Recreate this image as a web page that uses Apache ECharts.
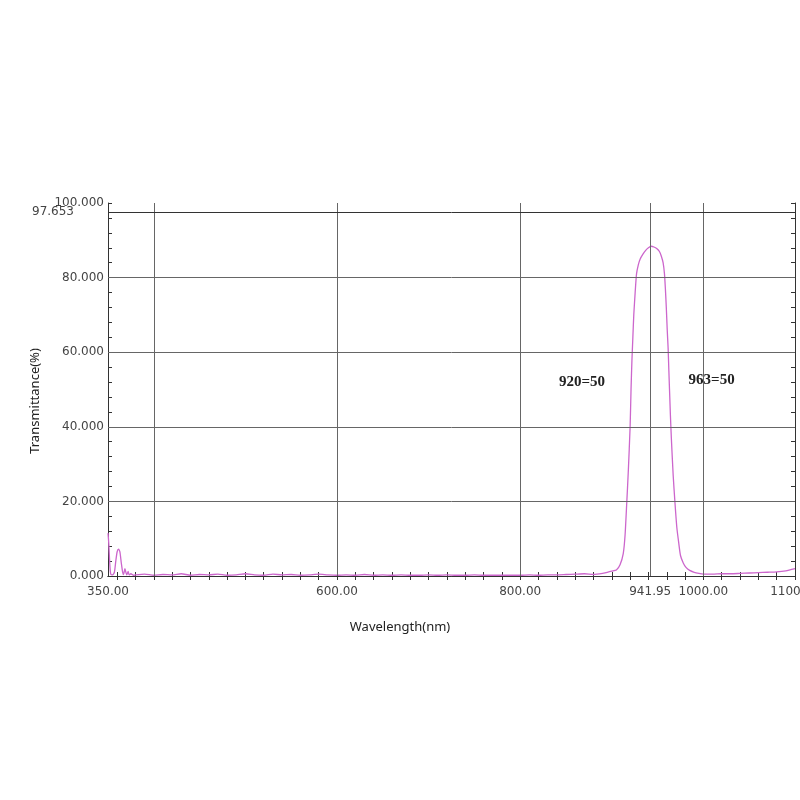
<!DOCTYPE html>
<html><head><meta charset="utf-8">
<script src="https://cdn.jsdelivr.net/npm/echarts@6/dist/echarts.min.js"></script>
<style>html,body{margin:0;padding:0;background:#fff}#c{width:800px;height:800px}</style>
</head><body><div id="c"></div>
<script>
// Wavelength (nm) and transmittance (%)
const wavelength = [
  350, 350.5, 351, 352, 353, 355, 357, 358.5, 360, 361.5, 363, 364.5, 366, 367, 368.5, 369.5, 370.5, 372, 373, 375, 378,
  380, 390, 400, 410, 420, 430, 440, 450, 460, 470, 480, 490, 500, 510, 520, 530, 540, 550, 560, 570, 580, 590,
  600, 610, 620, 630, 640, 650, 660, 670, 680, 690, 700, 710, 720, 730, 740, 750, 760, 770, 780, 790,
  800, 810, 820, 830, 840, 850, 860, 870, 880, 890, 895, 900, 905, 909, 912.5, 914.5, 916.3, 918, 920, 921, 922,
  923, 924, 925.5, 927, 929, 931, 934, 937, 940, 943, 946, 949, 952, 954, 956, 957.5, 958.5, 959.5, 960.5, 961.5,
  962.3, 963, 964, 965, 967, 969, 971, 973, 975, 978, 981, 985, 990, 995, 1000, 1010, 1020, 1030, 1040, 1050,
  1060, 1070, 1080, 1090, 1100
];
const transmittance = [
  11.5, 10, 8, 3, 0.5, 0.3, 1, 4, 6.5, 7.2, 6.5, 3.5, 1, 0.4, 2, 1, 0.3, 1.2, 0.3, 0.6, 0.2,
  0.3, 0.5, 0.2, 0.4, 0.3, 0.6, 0.2, 0.4, 0.3, 0.5, 0.2, 0.3, 0.6, 0.3, 0.2, 0.5, 0.3, 0.4, 0.2, 0.3, 0.5, 0.3,
  0.2, 0.3, 0.2, 0.4, 0.2, 0.3, 0.2, 0.3, 0.2, 0.2, 0.3, 0.2, 0.3, 0.2, 0.2, 0.3, 0.2, 0.2, 0.2, 0.2,
  0.2, 0.3, 0.2, 0.3, 0.3, 0.4, 0.5, 0.6, 0.4, 0.7, 1.0, 1.3, 1.6, 3, 6, 11, 19.5, 28, 40, 50, 58,
  64, 70, 76, 81, 83.5, 85, 86.3, 87.3, 88, 88.4, 88.2, 87.8, 87, 85.8, 84, 81, 77, 72, 66, 61,
  55, 50, 43, 37, 27, 19.5, 13, 9, 5.5, 3.5, 2.3, 1.5, 1.0, 0.7, 0.5, 0.5, 0.6, 0.6, 0.7, 0.8,
  0.9, 1.0, 1.1, 1.4, 2.0
];
const xLabelValues = [350, 600, 800, 941.95, 1000, 1100];
const xGridValues = [400, 600, 800, 941.95, 1000];
const yGridValues = [20, 40, 60, 80];
const yRefValue = 97.653;
const noteTexts = ['920=50', '963=50'];

const xMinor = [];
for (let v = 360; v <= 1100; v += 20) xMinor.push(v);
const yMinor = [];
for (let v = 0; v <= 100; v += 4) yMinor.push(v);

const seriesData = wavelength.map((w, i) => [w, transmittance[i]]);
const axisColor = '#333';
const gridColor = '#666';
const labelFont = { fontFamily: 'DejaVu Sans', fontSize: 12, color: '#444' };

const chart = echarts.init(document.getElementById('c'), null, { renderer: 'canvas' });
chart.setOption({
  animation: false,
  backgroundColor: '#fff',
  grid: { left: 108, right: 5, top: 203, bottom: 224, containLabel: false, outerBoundsMode: 'none' },
  xAxis: [
    {
      type: 'value', min: 350, max: 1100, position: 'bottom',
      axisLine: { show: true, lineStyle: { color: axisColor, width: 1 } },
      axisTick: { show: true, inside: true, length: 4, customValues: xMinor, lineStyle: { color: axisColor } },
      axisLabel: Object.assign({ customValues: xLabelValues, formatter: v => v.toFixed(2), margin: 10, showMaxLabel: true, showMinLabel: true }, labelFont),
      splitLine: { show: false }
    },
    {
      type: 'value', min: 350, max: 1100, position: 'top',
      axisLine: { show: true, lineStyle: { color: axisColor, width: 1 } },
      axisTick: { show: true, inside: true, length: 4, customValues: xMinor, lineStyle: { color: axisColor } },
      axisLabel: { show: false },
      splitLine: { show: false }
    }
  ],
  yAxis: [
    {
      type: 'value', min: 0, max: 100, interval: 20, position: 'left',
      axisLine: { show: true, lineStyle: { color: axisColor, width: 1 } },
      axisTick: { show: true, inside: true, length: 4, customValues: yMinor, lineStyle: { color: axisColor } },
      axisLabel: Object.assign({ formatter: v => v.toFixed(3), margin: 4 }, labelFont),
      splitLine: { show: false }
    },
    {
      type: 'value', min: 0, max: 100, interval: 20, position: 'right',
      axisLine: { show: true, lineStyle: { color: axisColor, width: 1 } },
      axisTick: { show: true, inside: true, length: 4, customValues: yMinor, lineStyle: { color: axisColor } },
      axisLabel: { show: false },
      splitLine: { show: false }
    }
  ],
  graphic: [
    { type: 'text', x: 35, y: 401, rotation: Math.PI / 2,
      style: { text: 'Transmittance(%)', fontFamily: 'Noto Sans', fontSize: 13, fill: '#222', align: 'center', verticalAlign: 'middle' } },
    { type: 'text', x: 400, y: 627,
      style: { text: 'Wavelength(nm)', fontFamily: 'Noto Sans', fontSize: 13, fill: '#222', align: 'center', verticalAlign: 'middle' } }
  ],
  series: [{
    type: 'line',
    xAxisIndex: 0, yAxisIndex: 0,
    data: seriesData,
    showSymbol: false,
    smooth: 0.2,
    lineStyle: { color: '#cc66cc', width: 1.3 },
    z: 3,
    markLine: {
      silent: true,
      symbol: ['none', 'none'],
      lineStyle: { color: gridColor, width: 1, type: 'solid' },
      label: { show: false },
      data: xGridValues.map(v => ({ xAxis: v }))
        .concat(yGridValues.map(v => ({ yAxis: v })))
        .concat([{
          yAxis: yRefValue,
          lineStyle: { color: axisColor, width: 1, type: 'solid' },
          label: { show: true, position: 'start', distance: 34, formatter: String(yRefValue), fontFamily: 'DejaVu Sans', fontSize: 12, color: '#444' }
        }])
    },
    markPoint: {
      silent: true,
      symbol: 'circle', symbolSize: 0,
      label: { show: true, position: 'inside', fontFamily: 'Liberation Serif', fontWeight: 'bold', fontSize: 15, color: '#222' },
      data: [
        { coord: [867.5, 52], value: noteTexts[0], label: { formatter: noteTexts[0] } },
        { coord: [1009, 52.6], value: noteTexts[1], label: { formatter: noteTexts[1] } }
      ]
    }
  }]
});
</script></body></html>
